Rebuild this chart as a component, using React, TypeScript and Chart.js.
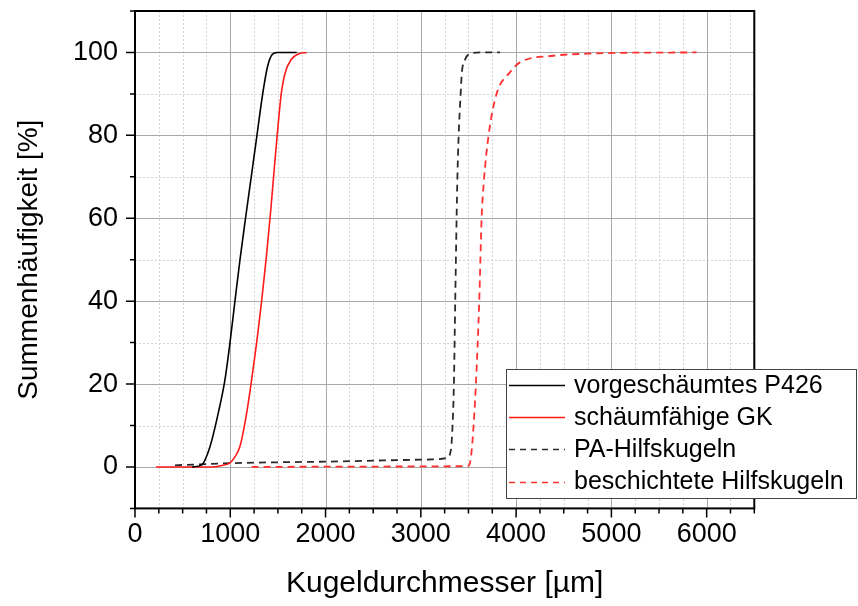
import React, { useEffect, useRef } from "react";
import { Chart, registerables } from "chart.js";

Chart.register(...registerables);

// ---------- data ----------
const SERIES_LABELS = [
  "vorgeschäumtes P426",
  "schäumfähige GK",
  "PA-Hilfskugeln",
  "beschichtete Hilfskugeln",
];

const P426_X = [600, 700, 787, 874, 944, 997, 1049, 1102, 1160, 1220, 1280, 1340, 1390, 1440, 1495, 1697];
const P426_Y = [0, 0.5, 4.9, 13, 21, 30, 40, 50, 60, 70, 80, 90, 96.5, 99.5, 100, 100];

const GK_X = [220, 800, 900, 997, 1050, 1102, 1172, 1224, 1277, 1329, 1380, 1425, 1462, 1500, 1535, 1575, 1640, 1720, 1801];
const GK_Y = [0, 0, 0.3, 1, 2.5, 5, 13, 21, 30, 40, 51, 62, 72, 82, 90, 95, 98.3, 99.7, 100];

const PA_X = [420, 997, 2046, 3095, 3290, 3310, 3323, 3347, 3361, 3382, 3397, 3418, 3431, 3463, 3515, 3650, 3830];
const PA_Y = [0.4, 0.9, 1.3, 1.8, 2.3, 3.5, 5.7, 20, 40, 68, 80, 90, 95.2, 98.2, 99.7, 100, 100];

const BH_X = [1224, 2500, 3490, 3515, 3543, 3578, 3613, 3638, 3662, 3711, 3795, 3935, 4040, 4389, 4740, 5089, 5894];
const BH_Y = [0, 0.1, 0.2, 0.9, 6.5, 20, 40, 60, 69, 80, 90, 95.2, 97.6, 99.2, 99.7, 99.9, 100];

const X_TICKS = [0, 1000, 2000, 3000, 4000, 5000, 6000];
const Y_TICKS = [0, 20, 40, 60, 80, 100];
const X_MIN = 0, X_MAX = 6500, X_MINOR = 250;
const Y_MIN = -10, Y_MAX = 110, Y_MINOR = 10;

const X_TITLE = "Kugeldurchmesser [µm]";
const Y_TITLE = "Summenhäufigkeit [%]";

const COLORS = ["#000000", "#ff1a1a", "#2a2a2a", "#ff3030"];
const DASHES: number[][] = [[], [], [7, 5], [7, 5]];

const FONT = "'Liberation Sans', Arial, sans-serif";

const toPts = (xs: number[], ys: number[]) => xs.map((x, i) => ({ x, y: ys[i] }));

const gridPlugin = {
  id: "customGrid",
  beforeDatasetsDraw(chart: any) {
    const { ctx, chartArea: a, scales } = chart;
    const xs = scales.x, ys = scales.y;
    ctx.save();
    ctx.strokeStyle = "#d4d4d4";
    ctx.lineWidth = 1;
    ctx.setLineDash([2, 2]);
    ctx.beginPath();
    for (let v = X_MIN + X_MINOR; v < X_MAX; v += X_MINOR) {
      if (v % 1000 === 0) continue;
      const p = Math.round(xs.getPixelForValue(v)) + 0.5;
      ctx.moveTo(p, a.top);
      ctx.lineTo(p, a.bottom);
    }
    for (let v = Y_MIN + Y_MINOR; v < Y_MAX; v += Y_MINOR) {
      if (v % 20 === 0) continue;
      const p = Math.round(ys.getPixelForValue(v)) + 0.5;
      ctx.moveTo(a.left, p);
      ctx.lineTo(a.right, p);
    }
    ctx.stroke();
    ctx.setLineDash([]);
    ctx.strokeStyle = "#a8a8a8";
    ctx.beginPath();
    X_TICKS.forEach((v) => {
      if (v === X_MIN) return;
      const p = Math.round(xs.getPixelForValue(v)) + 0.5;
      ctx.moveTo(p, a.top);
      ctx.lineTo(p, a.bottom);
    });
    Y_TICKS.forEach((v) => {
      const p = Math.round(ys.getPixelForValue(v)) + 0.5;
      ctx.moveTo(a.left, p);
      ctx.lineTo(a.right, p);
    });
    ctx.stroke();
    ctx.restore();
  },
  afterDatasetsDraw(chart: any) {
    const { ctx, chartArea: a, scales } = chart;
    const xs = scales.x, ys = scales.y;
    ctx.save();
    ctx.strokeStyle = "#000";
    ctx.lineWidth = 1.5;
    ctx.beginPath();
    for (let v = X_MIN; v <= X_MAX; v += X_MINOR) {
      const p = xs.getPixelForValue(v);
      const len = v % 1000 === 0 ? 9 : 5;
      ctx.moveTo(p, a.bottom);
      ctx.lineTo(p, a.bottom + len);
    }
    for (let v = Y_MIN; v <= Y_MAX; v += Y_MINOR) {
      const p = ys.getPixelForValue(v);
      const len = v % 20 === 0 ? 9 : 5;
      ctx.moveTo(a.left, p);
      ctx.lineTo(a.left - len, p);
    }
    ctx.stroke();
    ctx.lineWidth = 2;
    ctx.strokeRect(a.left, a.top, a.right - a.left, a.bottom - a.top);
    ctx.restore();
  },
  afterDraw(chart: any) {
    const { ctx } = chart;
    ctx.save();
    const bx = 506.5, by = 369.5, bw = 350, bh = 129;
    ctx.fillStyle = "#fff";
    ctx.fillRect(bx, by, bw, bh);
    ctx.strokeStyle = "#444";
    ctx.lineWidth = 1;
    ctx.strokeRect(bx, by, bw, bh);
    ctx.font = `25px ${FONT}`;
    ctx.textBaseline = "middle";
    ctx.fillStyle = "#000";
    SERIES_LABELS.forEach((label, i) => {
      const cy = 385 + i * 32.2;
      ctx.strokeStyle = COLORS[i];
      ctx.lineWidth = 1.5;
      ctx.setLineDash(DASHES[i].length ? [6, 5] : []);
      ctx.beginPath();
      ctx.moveTo(509, Math.round(cy) + 0.5);
      ctx.lineTo(565, Math.round(cy) + 0.5);
      ctx.stroke();
      ctx.setLineDash([]);
      ctx.fillText(label, 574, cy + 1);
    });
    ctx.restore();
  },
};

export default function App() {
  const ref = useRef<HTMLCanvasElement | null>(null);
  useEffect(() => {
    document.body.style.margin = "0";
    if (!ref.current) return;
    Chart.defaults.font.family = FONT;
    Chart.defaults.color = "#000";
    const series = [toPts(P426_X, P426_Y), toPts(GK_X, GK_Y), toPts(PA_X, PA_Y), toPts(BH_X, BH_Y)];
    const chart = new Chart(ref.current, {
      type: "line",
      data: {
        datasets: series.map((d, i) => ({
          label: SERIES_LABELS[i],
          data: d,
          borderColor: COLORS[i],
          borderWidth: i < 2 ? 1.6 : 1.8,
          borderDash: DASHES[i],
          pointRadius: 0,
          fill: false,
          cubicInterpolationMode: "monotone" as const,
        })),
      },
      options: {
        responsive: false,
        animation: false,
        events: [],
        layout: { padding: { top: 11, right: 103.7, left: 0, bottom: 0 } },
        plugins: { legend: { display: false }, tooltip: { enabled: false } },
        scales: {
          x: {
            type: "linear",
            min: X_MIN,
            max: X_MAX,
            grid: { display: false, drawTicks: false },
            border: { display: false },
            afterBuildTicks: (s: any) => { s.ticks = X_TICKS.map((value) => ({ value })); },
            afterFit: (s: any) => { s.height = 97.6; s.paddingLeft = 0; s.paddingRight = 0; },
            ticks: { font: { size: 27 }, padding: 10, maxRotation: 0, callback: (v: any) => String(v) },
            title: { display: true, text: X_TITLE, font: { size: 30 }, padding: { top: 0, bottom: 4 } },
          },
          y: {
            type: "linear",
            min: Y_MIN,
            max: Y_MAX,
            grid: { display: false, drawTicks: false },
            border: { display: false },
            afterBuildTicks: (s: any) => { s.ticks = Y_TICKS.map((value) => ({ value })); },
            afterFit: (s: any) => { s.width = 135; s.paddingTop = 0; s.paddingBottom = 0; },
            ticks: { font: { size: 27 }, padding: 17, callback: (v: any) => String(v) },
            title: { display: true, text: Y_TITLE, font: { size: 28 }, padding: { top: 12, bottom: 0 } },
          },
        },
      },
      plugins: [gridPlugin],
    });
    return () => chart.destroy();
  }, []);
  return (
    <div style={{ width: 858, height: 606 }}>
      <canvas ref={ref} width={858} height={606} style={{ width: 858, height: 606, display: "block" }} />
    </div>
  );
}
